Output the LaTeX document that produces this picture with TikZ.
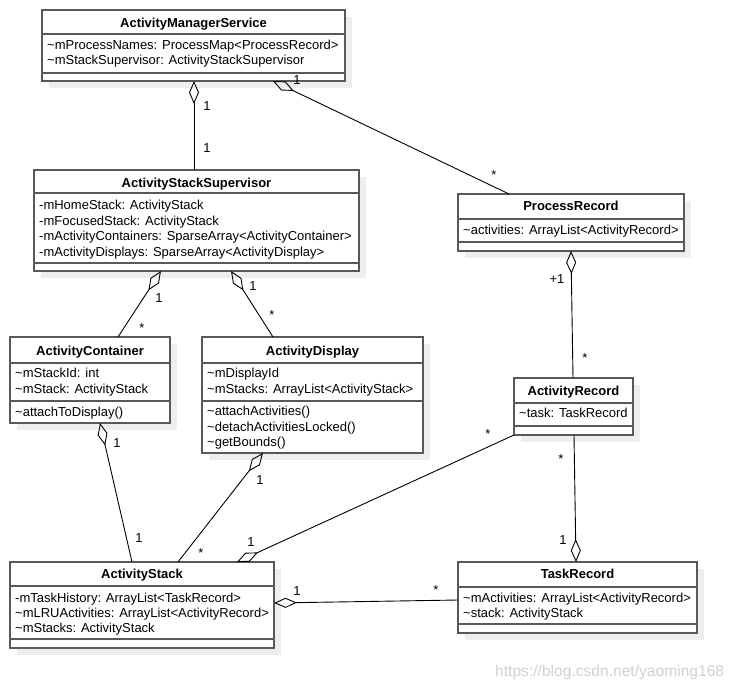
\documentclass[tikz,border=0pt]{standalone}
\usepackage{fontspec}
\setmainfont{Liberation Sans}
\usetikzlibrary{arrows.meta,shadows}
\definecolor{boxline}{HTML}{595959}
\definecolor{shadowc}{HTML}{EEEEEE}
\definecolor{wmark}{HTML}{D0D0D0}
\newcommand{\tld}{\textasciitilde}
\newcommand{\twoseps}[3]{%
  \draw[sepline] ([yshift=-#2pt]#1.north west) -- ([yshift=-#2pt]#1.north east);
  \draw[sepline] ([yshift=-#3pt]#1.north west) -- ([yshift=-#3pt]#1.north east);}
\begin{document}
\begin{tikzpicture}[x=1pt,y=-1pt,
  cls/.style={draw=boxline, line width=1.5pt, fill=white, rectangle, outer sep=0pt, inner sep=0pt, anchor=north west,
    drop shadow={shadow xshift=7pt, shadow yshift=-7pt, fill=shadowc, opacity=1, draw=none}},
  sepline/.style={draw=boxline, line width=1.5pt},
  ttl/.style={anchor=base, inner sep=0pt, font=\fontsize{13}{15}\selectfont\bfseries},
  attr/.style={anchor=base west, inner sep=0pt, font=\fontsize{13}{15}\selectfont},
  mult/.style={anchor=base, inner sep=0pt, font=\fontsize{13}{15}\selectfont},
  assoc/.style={draw=black, line width=0.9pt},
  agg/.style={assoc, {Diamond[open, length=23pt, width=10pt]}-},
]
\useasboundingbox (0,0) rectangle (737,689);

% ActivityManagerService
\node[cls, minimum width=303pt, minimum height=71pt] (ams) at (42,10) {};
\twoseps{ams}{24}{63}
\node[ttl] (amsT) at (193.5,27) {ActivityManagerService};
\node[attr] (amsA1) at (47,49.5) {\tld mProcessNames: ProcessMap<ProcessRecord>};
\node[attr] (amsA2) at (47,64.5) {\tld mStackSupervisor: ActivityStackSupervisor};

% ActivityStackSupervisor
\node[cls, minimum width=325pt, minimum height=101pt] (ass) at (34,170) {};
\twoseps{ass}{23}{93}
\node[ttl] (assT) at (196.5,187.5) {ActivityStackSupervisor};
\node[attr] (assA1) at (39,209.5) {-mHomeStack: ActivityStack};
\node[attr] (assA2) at (39,225) {-mFocusedStack: ActivityStack};
\node[attr] (assA3) at (39,240.5) {-mActivityContainers: SparseArray<ActivityContainer>};
\node[attr] (assA4) at (39,256) {-mActivityDisplays: SparseArray<ActivityDisplay>};

% ActivityContainer
\node[cls, minimum width=160pt, minimum height=86pt] (ac) at (10,337) {};
\twoseps{ac}{26}{64}
\node[ttl] (acT) at (90,355.5) {ActivityContainer};
\node[attr] (acA1) at (15,377.5) {\tld mStackId: int};
\node[attr] (acA2) at (15,393.5) {\tld mStack: ActivityStack};
\node[attr] (acM1) at (15,416.5) {\tld attachToDisplay()};

% ActivityDisplay
\node[cls, minimum width=221pt, minimum height=116pt] (ad) at (202,337) {};
\twoseps{ad}{26}{64}
\node[ttl] (adT) at (312.5,355.5) {ActivityDisplay};
\node[attr] (adA1) at (207,377.5) {\tld mDisplayId};
\node[attr] (adA2) at (207,393.5) {\tld mStacks: ArrayList<ActivityStack>};
\node[attr] (adM1) at (207,415.5) {\tld attachActivities()};
\node[attr] (adM2) at (207,431) {\tld detachActivitiesLocked()};
\node[attr] (adM3) at (207,446.5) {\tld getBounds()};

% ActivityStack
\node[cls, minimum width=264pt, minimum height=86pt] (astk) at (10,562) {};
\twoseps{astk}{24}{77}
\node[ttl] (astkT) at (142,578.5) {ActivityStack};
\node[attr] (astkA1) at (15,602.5) {-mTaskHistory: ArrayList<TaskRecord>};
\node[attr] (astkA2) at (15,617.5) {\tld mLRUActivities: ArrayList<ActivityRecord>};
\node[attr] (astkA3) at (15,632.5) {\tld mStacks: ActivityStack};

% ProcessRecord
\node[cls, minimum width=226pt, minimum height=57pt] (pr) at (458,194) {};
\twoseps{pr}{25}{48}
\node[ttl] (prT) at (571,210.5) {ProcessRecord};
\node[attr] (prA1) at (463,234.5) {\tld activities: ArrayList<ActivityRecord>};

% ActivityRecord
\node[cls, minimum width=119pt, minimum height=57pt] (ar) at (514,378) {};
\twoseps{ar}{25}{48}
\node[ttl] (arT) at (573.5,395.5) {ActivityRecord};
\node[attr] (arA1) at (519,417.5) {\tld task: TaskRecord};

% TaskRecord
\node[cls, minimum width=239pt, minimum height=71pt] (tr) at (458,562) {};
\twoseps{tr}{25}{62}
\node[ttl] (trT) at (577.5,578.5) {TaskRecord};
\node[attr] (trA1) at (463,602.5) {\tld mActivities: ArrayList<ActivityRecord>};
\node[attr] (trA2) at (463,617.5) {\tld stack: ActivityStack};

% connectors
\draw[agg] ([xshift=152pt]ams.south west) -- ([xshift=160pt]ass.north west);
\draw[agg] ([xshift=231pt]ams.south west) -- ([xshift=51pt]pr.north west);
\draw[agg] ([xshift=127pt]ass.south west) -- ([xshift=108pt]ac.north west);
\draw[agg] ([xshift=197pt]ass.south west) -- ([xshift=71pt]ad.north west);
\draw[agg] ([xshift=90pt]ac.south west) -- ([xshift=122pt]astk.north west);
\draw[agg] ([xshift=61pt]ad.south west) -- ([xshift=168pt]astk.north west);
\draw[agg] ([xshift=227pt]astk.north west) -- (ar.south west);
\draw[agg] ([yshift=-41pt]astk.north east) -- ([yshift=-38pt]tr.north west);
\draw[agg] ([xshift=113pt]pr.south west) -- ([xshift=59pt]ar.north west);
\draw[agg] ([xshift=118pt]tr.north west) -- ([xshift=60pt]ar.south west);

% multiplicities
\node[mult] (m1a) at (207,110.7) {1};
\node[mult] (m1b) at (207,152.7) {1};
\node[mult] (m2a) at (297,84.7) {1};
\node[mult] (m2b) at (494,179.5) {*};
\node[mult] (m3a) at (159,302.7) {1};
\node[mult] (m3b) at (142,332.5) {*};
\node[mult] (m4a) at (253,290.7) {1};
\node[mult] (m4b) at (272,319.5) {*};
\node[mult] (m5a) at (117,447.7) {1};
\node[mult] (m5b) at (139,542.7) {1};
\node[mult] (m6a) at (260,484.7) {1};
\node[mult] (m6b) at (201,557.5) {*};
\node[mult] (m7a) at (251,546.7) {1};
\node[mult] (m7b) at (488,438.5) {*};
\node[mult] (m8a) at (297,595.7) {1};
\node[mult] (m8b) at (436,594.5) {*};
\node[mult] (m9a) at (557,283.7) {+1};
\node[mult] (m9b) at (585,362.5) {*};
\node[mult] (m10a) at (561,463.5) {*};
\node[mult] (m10b) at (563,544.7) {1};

% watermark
\node[anchor=base west, inner sep=0pt, font=\fontsize{15.6}{18}\selectfont, text=wmark] (wm) at (495,676) {https://blog.csdn.net/yaoming168};
\end{tikzpicture}
\end{document}
